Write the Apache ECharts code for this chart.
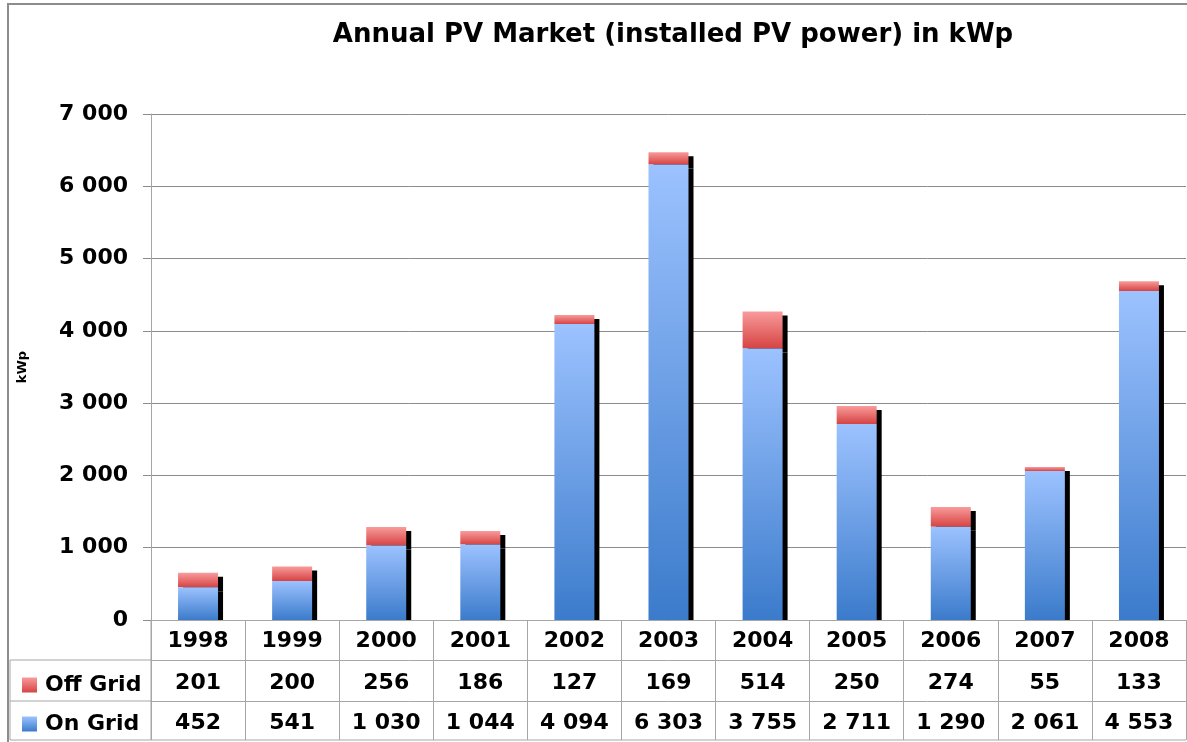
<!DOCTYPE html>
<html>
<head>
<meta charset="utf-8">
<script src="https://cdn.jsdelivr.net/npm/echarts@6/dist/echarts.min.js"></script>
<style>html,body{margin:0;padding:0;background:#fff}#c{width:1187px;height:742px}</style>
</head>
<body>
<div id="c"></div>
<script>
const years = ['1998','1999','2000','2001','2002','2003','2004','2005','2006','2007','2008'];
const offGrid = [201, 200, 256, 186, 127, 169, 514, 250, 274, 55, 133];
const onGrid = [452, 541, 1030, 1044, 4094, 6303, 3755, 2711, 1290, 2061, 4553];
const yTicks = [0, 1000, 2000, 3000, 4000, 5000, 6000, 7000];
const seriesNames = ['Off Grid', 'On Grid'];
const titleText = 'Annual PV Market (installed PV power) in kWp';

const fmt = v => String(v).replace(/\B(?=(\d{3})+(?!\d))/g, ' ');
const FONT = 'DejaVu Sans';
const lineCol = '#a6a6a6';
const G = {left: 151, right: 1, top: 114, bottom: 122};

const chart = echarts.init(document.getElementById('c'));
const blueGrad = new echarts.graphic.LinearGradient(0, 0, 0, 1, [
  {offset: 0, color: '#9cc2ff'}, {offset: 1, color: '#3b7bcb'}]);
const redGrad = new echarts.graphic.LinearGradient(0, 0, 0, 1, [
  {offset: 0, color: '#f99b9b'}, {offset: 1, color: '#d64343'}]);
const shadow = {shadowColor: '#000', shadowBlur: 0, shadowOffsetX: 5, shadowOffsetY: 4};

function tableAxis(offset, values, margin, tickLen) {
  return {
    type: 'category', data: years, position: 'bottom', offset: offset, z: 10,
    axisLine: {show: true, lineStyle: {color: lineCol, width: 1}},
    axisTick: {show: true, length: tickLen, lineStyle: {color: lineCol}},
    axisLabel: {margin: margin, fontFamily: FONT, fontWeight: 'bold', fontSize: 22, color: '#000',
      formatter: (v, i) => values ? fmt(values[i]) : v},
    splitLine: {show: false}
  };
}
function legendFor(name, top) {
  return {
    orient: 'vertical', left: 17, top: top, data: [name],
    itemWidth: 15, itemHeight: 15, icon: 'rect',
    textStyle: {fontFamily: FONT, fontWeight: 'bold', fontSize: 22, color: '#000', padding: [0, 0, 0, 3]}
  };
}

const option = {
  animation: false,
  backgroundColor: '#fff',
  title: {
    text: titleText, left: 668, top: 17, textAlign: 'center',
    textStyle: {fontFamily: FONT, fontWeight: 'bold', fontSize: 26, color: '#000'}
  },
  legend: [legendFor(seriesNames[0], 669), legendFor(seriesNames[1], 708)],
  grid: G,
  xAxis: [
    tableAxis(0, null, 10, 40),
    tableAxis(40, offGrid, 12, 41),
    tableAxis(81, onGrid, 11, 39)
  ],
  yAxis: {
    type: 'value', min: yTicks[0], max: yTicks[yTicks.length - 1], interval: 1000,
    name: 'kWp', nameLocation: 'middle', nameGap: 122, nameRotate: 90,
    nameTextStyle: {fontFamily: FONT, fontWeight: 'bold', fontSize: 13, color: '#000'},
    axisLine: {show: true, lineStyle: {color: lineCol}},
    axisTick: {show: true, length: 8, lineStyle: {color: '#8c8c8c'}},
    axisLabel: {margin: 23, fontFamily: FONT, fontWeight: 'bold', fontSize: 22, color: '#000', formatter: v => fmt(v)},
    splitLine: {show: true, lineStyle: {color: '#8c8c8c', width: 1}}
  },
  series: [
    {name: 'On Grid', type: 'bar', stack: 'pv', data: onGrid, barWidth: 40, z: 3,
     itemStyle: Object.assign({color: blueGrad}, shadow)},
    {name: 'Off Grid', type: 'bar', stack: 'pv', data: offGrid, barWidth: 40, z: 2,
     itemStyle: Object.assign({color: redGrad}, shadow)}
  ],
  graphic: [
    {type: 'rect', shape: {x: 8, y: 4, width: 1190, height: 750}, style: {fill: null, stroke: '#8c8c8c', lineWidth: 2}, silent: true, z: 0},
    {type: 'rect', shape: {x: 152, y: 620.5, width: 1034, height: 5}, style: {fill: '#fff'}, silent: true, z: 8},
    {type: 'line', shape: {x1: 10, y1: 660, x2: 151, y2: 660}, style: {stroke: lineCol, lineWidth: 1}},
    {type: 'line', shape: {x1: 10, y1: 701, x2: 151, y2: 701}, style: {stroke: lineCol, lineWidth: 1}},
    {type: 'line', shape: {x1: 10, y1: 740, x2: 1186, y2: 740}, style: {stroke: lineCol, lineWidth: 1}},
    {type: 'line', shape: {x1: 10, y1: 660, x2: 10, y2: 740}, style: {stroke: lineCol, lineWidth: 1}},
    {type: 'line', shape: {x1: 151, y1: 620, x2: 151, y2: 740}, style: {stroke: lineCol, lineWidth: 1}}
  ]
};
chart.setOption(option);
</script>
</body>
</html>
